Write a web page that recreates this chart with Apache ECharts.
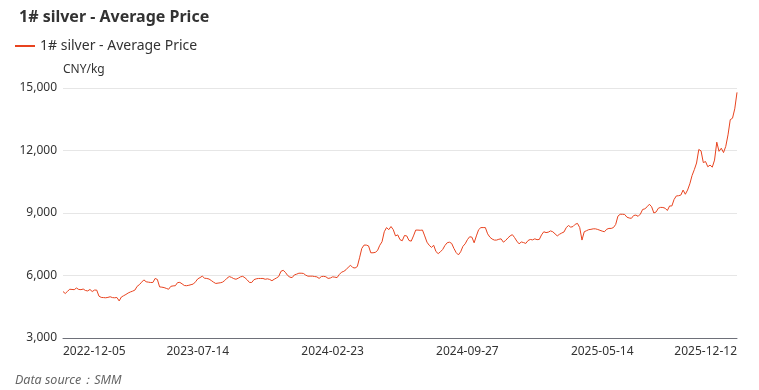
<!DOCTYPE html>
<html>
<head>
<meta charset="utf-8">
<script src="https://cdn.jsdelivr.net/npm/echarts@6/dist/echarts.min.js"></script>
<style>html,body{margin:0;padding:0;background:#fff}#c{width:759px;height:390px}</style>
</head>
<body>
<div id="c"></div>
<script>
// Tick label dates (equally spaced on the category axis)
const labelDates = ['2022-12-05', '2023-07-14', '2024-02-23', '2024-09-27', '2025-05-14', '2025-12-12'];
const stepsPerSegment = 60;
// Average price, CNY/kg (readings from the reference, 60 per labelled segment)
const prices = [
  5230, 5136, 5240, 5340, 5330, 5320, 5400, 5330, 5320, 5350,
  5280, 5260, 5330, 5230, 5300, 5300, 5010, 4950, 4940, 4930,
  4950, 4980, 4940, 4930, 4944, 4780, 4970, 5030, 5090, 5160,
  5210, 5250, 5300, 5480, 5560, 5680, 5790, 5700, 5680, 5665,
  5665, 5858, 5810, 5454, 5440, 5420, 5380, 5340, 5480, 5500,
  5510, 5660, 5670, 5600, 5520, 5510, 5530, 5560, 5590, 5700,
  5840, 5900, 5969, 5870, 5858, 5830, 5760, 5680, 5618, 5635,
  5650, 5680, 5760, 5870, 5950, 5910, 5850, 5820, 5870, 5935,
  5960, 5890, 5790, 5666, 5666, 5800, 5840, 5858, 5858, 5858,
  5820, 5840, 5810, 5750, 5820, 5880, 5950, 6200, 6250, 6150,
  6000, 5920, 5900, 6030, 6065, 6110, 6110, 6100, 6020, 5969,
  5969, 5969, 5950, 5935, 5860, 5950, 5960, 5940, 5860, 5880,
  5935, 5920, 5900, 6050, 6160, 6200, 6280, 6400, 6490, 6380,
  6360, 6430, 6850, 7300, 7460, 7460, 7420, 7090, 7090, 7110,
  7200, 7450, 7620, 8100, 8300, 8200, 8350, 8200, 7900, 7950,
  7720, 7668, 7920, 7900, 7680, 7650, 7900, 8180, 8180, 8170,
  8182, 7900, 7600, 7450, 7350, 7450, 7150, 7050, 7138, 7250,
  7440, 7572, 7600, 7540, 7300, 7100, 6990, 7138, 7400, 7520,
  7720, 7860, 7840, 7570, 7900, 8200, 8300, 8300, 8300, 8000,
  7840, 7750, 7700, 7700, 7740, 7760, 7600, 7680, 7800, 7900,
  7960, 7820, 7650, 7520, 7610, 7580, 7540, 7680, 7730, 7710,
  7760, 7720, 7730, 7950, 8100, 8060, 8080, 8140, 8100, 8000,
  7900, 7980, 8040, 8090, 8300, 8400, 8320, 8350, 8460, 8500,
  8300, 7701, 8100, 8150, 8200, 8216, 8240, 8240, 8210, 8170,
  8130, 8100, 8220, 8260, 8260, 8300, 8450, 8850, 8940, 8940,
  8930, 8800, 8760, 8745, 8880, 8900, 8840, 8950, 9170, 9200,
  9300, 9420, 9300, 9000, 9050, 9230, 9270, 9265, 9230, 9120,
  9338, 9338, 9650, 9819, 9830, 9860, 10100, 9900, 10100, 10400,
  10800, 11080, 11400, 12050, 11980, 11420, 11470, 11220, 11300, 11200,
  11540, 12400, 11960, 12110, 11900, 12200, 12750, 13480, 13550, 14000,
  14790
];
const seriesName = '1# silver - Average Price';

// Build category dates between the labelled anchor dates
function fmt(d) {
  const p = n => String(n).padStart(2, '0');
  return d.getUTCFullYear() + '-' + p(d.getUTCMonth() + 1) + '-' + p(d.getUTCDate());
}
const categories = [];
for (let s = 0; s < labelDates.length - 1; s++) {
  const a = Date.parse(labelDates[s] + 'T00:00:00Z');
  const b = Date.parse(labelDates[s + 1] + 'T00:00:00Z');
  for (let k = 0; k < stepsPerSegment; k++) {
    categories.push(k === 0 ? labelDates[s] : fmt(new Date(a + (b - a) * k / stepsPerSegment)));
  }
}
categories.push(labelDates[labelDates.length - 1]);

const chart = echarts.init(document.getElementById('c'));
const font = '"Noto Sans", "Open Sans", sans-serif';
chart.setOption({
  animation: false,
  title: {
    text: '1# silver - Average Price',
    left: 14, top: 4,
    textStyle: { fontSize: 16, fontWeight: 'bold', color: '#333', fontFamily: font }
  },
  legend: {
    left: 10, top: 34,
    itemWidth: 20, itemHeight: 2, itemGap: 10,
    icon: 'rect',
    textStyle: { fontSize: 14, color: '#333', fontFamily: font },
    data: [seriesName]
  },
  grid: { left: 63, right: 22, top: 88, bottom: 52 },
  xAxis: {
    type: 'category',
    data: categories,
    boundaryGap: false,
    axisLine: { show: true, lineStyle: { color: '#6e7079' } },
    axisTick: { show: false },
    axisLabel: {
      interval: stepsPerSegment - 1,
      color: '#333', fontSize: 12, fontFamily: font, margin: 8,
      alignMinLabel: 'left', alignMaxLabel: 'right'
    }
  },
  yAxis: {
    type: 'value',
    min: 3000, max: 15000, interval: 3000,
    name: 'CNY/kg',
    nameGap: 12,
    nameTextStyle: { color: '#333', fontSize: 12, fontFamily: font, align: 'left' },
    axisLine: { show: false },
    axisTick: { show: false },
    axisLabel: {
      color: '#333', fontSize: 12, fontFamily: font, margin: 6,
      formatter: v => v.toLocaleString('en-US')
    },
    splitLine: { lineStyle: { color: '#e6e6e6' } }
  },
  series: [{
    name: seriesName,
    type: 'line',
    data: prices,
    showSymbol: false,
    symbol: 'none',
    lineStyle: { width: 1, color: '#e8431f' },
    itemStyle: { color: '#e8431f' }
  }],
  graphic: [{
    type: 'text',
    left: 15, top: 374,
    style: {
      text: 'Data source：SMM',
      fill: '#666', fontSize: 12.5, fontStyle: 'italic', fontFamily: font
    }
  }]
});
</script>
</body>
</html>
